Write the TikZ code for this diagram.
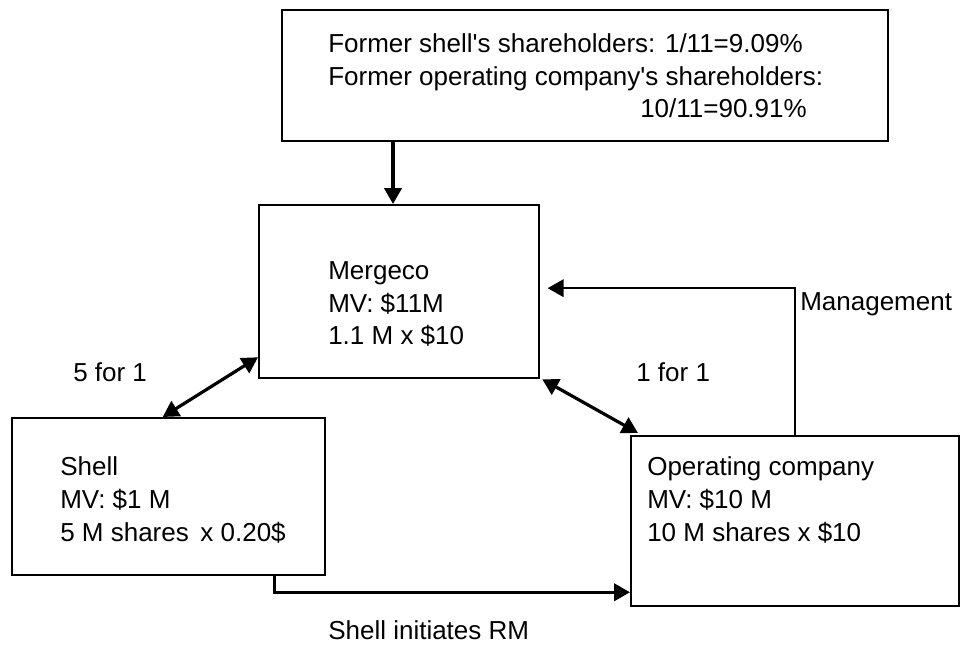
\documentclass[tikz,border=0pt]{standalone}
\usepackage{fontspec}
\setmainfont{Liberation Sans}
\usetikzlibrary{arrows.meta,calc}

\begin{document}
\begin{tikzpicture}[x=0.75pt,y=-0.75pt,
    box/.style={draw,line width=1.7pt,anchor=north west,inner sep=0pt},
    txt/.style={anchor=west,align=left,inner sep=0pt,font=\fontsize{19.5}{24.5}\selectfont},
    arr/.style={line width=2.4pt,-{Triangle[length=12pt,width=13pt]}},
    dbl/.style={line width=2.4pt,{Triangle[length=12pt,width=13pt]}-{Triangle[length=12pt,width=13pt]}}]
    \useasboundingbox(0,0)rectangle(962,649);

    \node[box,minimum width=606*0.75pt,minimum height=131*0.75pt](top)at(281,9){};
    \node[box,minimum width=280*0.75pt,minimum height=173*0.75pt](mergeco)at(258,204){};
    \node[box,minimum width=313*0.75pt,minimum height=157*0.75pt](shell)at(11,417){};
    \node[box,minimum width=328*0.75pt,minimum height=170*0.75pt](op)at(630,435){};

    \node[txt](toptxt)at(328,76){Former shell\textquotesingle s shareholders: 1/11=9.09\%\\Former operating company\textquotesingle s shareholders:\\\hspace*{234pt}10/11=90.91\%};
    \node[txt](mergecotxt)at(328,304){Mergeco\\MV: \$11M\\1.1 M x \$10};
    \node[txt](shelltxt)at(60,500){Shell\\MV: \$1 M\\5 M shares\, x 0.20\$};
    \node[txt](optxt)at(647,500){Operating company\\MV: \$10 M\\10 M shares x \$10};

    \node[txt](mgmt)at(800,304){Management};
    \node[txt](oneforone)at(636,372){1 for 1};
    \node[txt](fiveforone)at(73,372){5 for 1};
    \node[txt](rm)at(328,630){Shell initiates RM};

    \draw[arr]($(top.south west)+(112,0)$)--($(mergeco.north west)+(135,0)$);
    \draw[dbl]([xshift=-4.5pt]shell.north)--([yshift=16.5pt]mergeco.south west);
    \draw[dbl]([xshift=1.5pt]mergeco.south east)--([xshift=6pt,yshift=1.5pt]op.north west);
    \draw[arr,line width=1.8pt](op.north)|-([xshift=5.5pt,yshift=2.6pt]mergeco.east);
    \draw[arr]([xshift=-39pt]shell.south east)|-([yshift=-12pt]shell.south east-|op.west);
\end{tikzpicture}
\end{document}
